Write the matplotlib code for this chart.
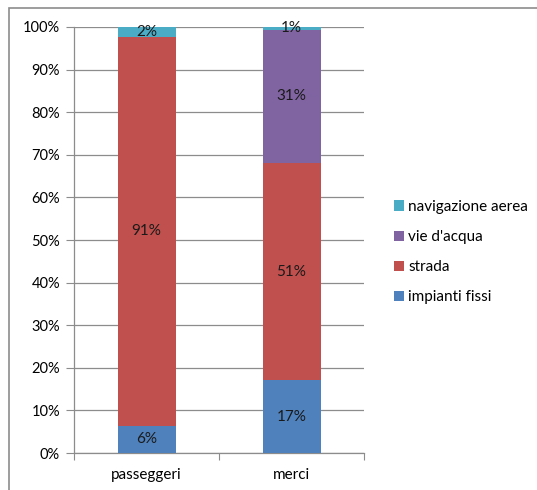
import matplotlib
matplotlib.use("Agg")
import matplotlib.pyplot as plt
import numpy as np
from matplotlib.patches import Rectangle

plt.rcParams['font.family'] = ['Lato', 'DejaVu Sans']

categories = ['passeggeri', 'merci']
series_names = ['impianti fissi', 'strada', "vie d'acqua", 'navigazione aerea']
impianti_fissi = [6.4, 17.1]
strada = [91.2, 51.0]
vie_acqua = [0.0, 31.2]
navigazione_aerea = [2.4, 0.7]
colors = ['#4F81BD', '#C0504D', '#8064A2', '#4BACC6']

fig = plt.figure(figsize=(5.37, 4.90), dpi=100)
ax = fig.add_axes([74 / 537, 37 / 490, 290 / 537, 426 / 490])

x = np.arange(len(categories))
bottom = np.zeros(len(categories))
handles = []
for name, vals, col in zip(series_names,
                           [impianti_fissi, strada, vie_acqua, navigazione_aerea],
                           colors):
    vals = np.array(vals)
    bars = ax.bar(x, vals, 0.4, bottom=bottom, color=col, label=name, zorder=3)
    handles.append(bars)
    for xi, b, v in zip(x, bottom, vals):
        if v > 0:
            ax.text(xi, b + v / 2, f'{round(v):.0f}%', ha='center', va='center',
                    fontsize=11, color='#1a1a1a', zorder=4)
    bottom += vals

ax.set_xlim(-0.5, 1.5)
ax.set_ylim(0, 100)
ax.set_yticks(np.arange(0, 101, 10))
ax.set_yticklabels([f'{t}%' for t in range(0, 101, 10)], fontsize=10.5)
ax.yaxis.grid(True, color='#8c8c8c', linewidth=0.9, zorder=0)
ax.set_xticks([-0.5, 0.5, 1.5], minor=False)
ax.set_xticklabels([])
ax.set_xticks(x, minor=True)
ax.set_xticklabels(categories, minor=True, fontsize=11)
ax.tick_params(axis='x', which='minor', length=0, pad=11)
ax.tick_params(axis='x', which='major', length=5, color='#8c8c8c')
ax.tick_params(axis='y', length=6, color='#8c8c8c', pad=4)
for s in ['top', 'right']:
    ax.spines[s].set_visible(False)
for s in ['left', 'bottom']:
    ax.spines[s].set_color('#8c8c8c')
    ax.spines[s].set_linewidth(0.9)

leg = fig.legend(handles[::-1], series_names[::-1], loc='center left',
                 bbox_to_anchor=(380 / 537, 1 - 252 / 490), frameon=False,
                 fontsize=11, handlelength=0.65, handleheight=0.65,
                 handletextpad=0.3, labelspacing=1.05)

fig.patches.append(Rectangle((9 / 537, -0.1), 1.2, 1.1 - 8 / 490,
                             transform=fig.transFigure, fill=False,
                             edgecolor='#8c8c8c', linewidth=1.2))

fig.savefig('out.png', dpi=100)
